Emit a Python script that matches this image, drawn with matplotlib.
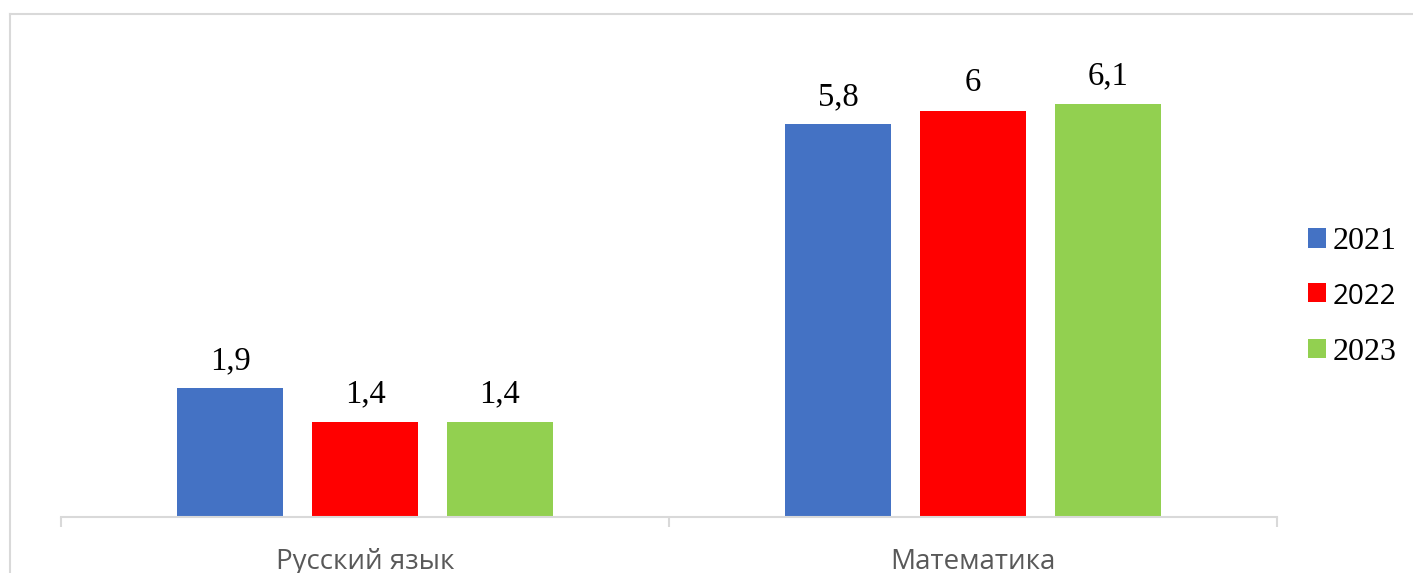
import matplotlib.pyplot as plt
from matplotlib.lines import Line2D
import numpy as np

categories = ["Русский язык", "Математика"]
years = ["2021", "2022", "2023"]
values_2021 = [1.9, 5.8]
values_2022 = [1.4, 6.0]
values_2023 = [1.4, 6.1]
colors = ["#4472C4", "#FF0000", "#92D050"]

serif = ["Liberation Serif", "DejaVu Serif"]
sans = ["Open Sans", "DejaVu Sans"]

fig = plt.figure(figsize=(14.13, 5.73), dpi=100)
ax = fig.add_axes([61 / 1413, 1 - 517 / 573, 1216 / 1413, 487 / 573])

x = np.arange(len(categories))
width = 0.173
step = 0.222
for i, (vals, col, yr) in enumerate(zip([values_2021, values_2022, values_2023], colors, years)):
    bars = ax.bar(x + (i - 1) * step, vals, width, color=col, label=yr)
    ax.bar_label(bars, labels=[f"{v:g}".replace(".", ",") for v in vals],
                 padding=9, fontsize=23.5, family=serif)

ax.set_xlim(-0.5, 1.5)
ax.set_ylim(0, 487 / 67.7)
ax.set_yticks([])
for s in ["left", "right", "top"]:
    ax.spines[s].set_visible(False)
ax.spines["bottom"].set_color("#d9d9d9")
ax.spines["bottom"].set_linewidth(1.5)

ax.set_xticks(x)
ax.set_xticklabels(categories, fontsize=20, family=sans, color="#595959")
ax.tick_params(axis="x", which="major", length=0, pad=22)
ax.set_xticks([-0.5, 0.5, 1.5], minor=True)
ax.tick_params(axis="x", which="minor", length=7.5, width=1.5, color="#d9d9d9")

leg = fig.legend(loc="center left", bbox_to_anchor=(1292 / 1413, 1 - 297 / 573),
                 frameon=False, prop={"family": serif, "size": 23},
                 handlelength=0.56, handleheight=0.56, handletextpad=0.2,
                 labelspacing=0.84, borderpad=0)
leg.get_texts()[1].set_fontfamily(sans)
leg.get_texts()[1].set_fontsize(20)

# outer chart border (top and left edges only are visible)
bx, by = 9.5 / 1413, 1 - 13.5 / 573
fig.add_artist(Line2D([bx, 1], [by, by], transform=fig.transFigure,
                      color="#d9d9d9", linewidth=1.5))
fig.add_artist(Line2D([bx, bx], [0, by], transform=fig.transFigure,
                      color="#d9d9d9", linewidth=1.5))

fig.savefig("out.png", dpi=100)
